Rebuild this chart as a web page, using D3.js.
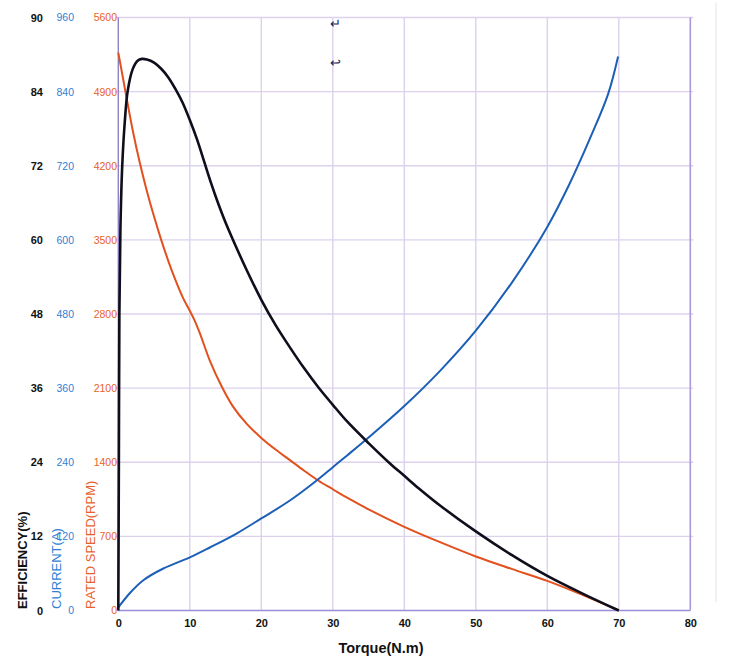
<!DOCTYPE html>
<html>
<head>
<meta charset="utf-8">
<script src="https://cdn.jsdelivr.net/npm/d3@7"></script>
<style>
  body { margin: 0; background: #fff; }
  #motorChart text { font-family: "Liberation Sans", Arial, sans-serif; }
</style>
</head>
<body>
<div id="motorChart"></div>
<script>
/* data */
const torque = [0, 10, 20, 30, 40, 50, 60, 70, 80];
const effLabels = ["0", "12", "24", "36", "48", "60", "72", "84", "90"];
const currentTicks = [0, 120, 240, 360, 480, 600, 720, 840, 960];
const speedTicks = [0, 700, 1400, 2100, 2800, 3500, 4200, 4900, 5600];

// [torque, efficiency %]
const efficiency = [[0, 0], [0.08, 24], [0.15, 48], [0.3, 62], [0.55, 72], [0.9, 79], [1.3, 84], [2, 87.6],
  [2.7, 89], [3.3, 89.3], [4, 89.2], [5, 88.7], [6, 87.7], [7, 86.3], [8, 84.4], [9, 82.2], [10, 79.4],
  [11, 76.3], [12, 72.7], [13, 69.1], [14, 65.8], [15, 62.8], [16, 60.1], [18, 55], [20, 50.3],
  [22, 46.2], [24, 42.6], [26, 39.2], [28, 36.1], [30, 33.3], [32, 30.6], [35, 27.1], [38, 23.8],
  [40, 21.8], [42, 19.8], [45, 17.0], [50, 12.8], [55, 9.0], [60, 5.6], [65, 2.7], [70, 0]];
// [torque, current A]
const current = [[0, 5], [1.6, 28], [3.5, 49], [6.3, 68], [10, 86], [12.8, 102], [16.6, 125], [20, 149],
  [24, 178], [27.7, 210], [30, 232], [32, 251], [35, 280], [40, 331], [45, 388], [50, 453], [55, 530],
  [60, 621], [63, 688], [66, 765], [68.5, 836], [69.9, 897]];
// [torque, speed rpm]
const speed = [[0, 5268], [1, 4900], [2, 4540], [3, 4230], [4, 3960], [5, 3720], [6, 3500], [7, 3300],
  [8, 3120], [9, 2960], [10, 2830], [10.6, 2750], [11.4, 2620], [12.8, 2360], [14.5, 2110], [16, 1930],
  [18, 1760], [20, 1630], [22, 1520], [24, 1420], [26, 1320], [28, 1225], [30, 1145], [32, 1065],
  [35, 955], [40, 790], [45, 645], [50, 510], [55, 393], [60, 280], [65, 145], [70, 0]];

const plotLeft = 118.3, plotRight = 690.3, plotTop = 17.5, plotBottom = 610.5;

const svg = d3.select("#motorChart").append("svg")
  .attr("width", 750)
  .attr("height", 666);

/* scales */
const x = d3.scaleLinear().domain([0, 80]).range([plotLeft, plotRight]);
const ySpeed = d3.scaleLinear().domain([0, 5600]).range([plotBottom, plotTop]);
const yCur = d3.scaleLinear().domain([0, 960]).range([plotBottom, plotTop]);
const yEff = d3.scaleLinear().domain([0, 96]).range([plotBottom, plotTop]);

const gridColor = "#dcd2ec";

/* faint line at far right */
svg.append("line")
  .attr("x1", 716).attr("x2", 716).attr("y1", 3).attr("y2", 602)
  .style("stroke", "#e4e4e8").style("stroke-width", 1);

/* grid */
svg.append("g")
  .selectAll("line")
  .data(speedTicks.slice(1)).enter()
  .append("line")
  .attr("x1", plotLeft - 3).attr("x2", plotRight + 3)
  .attr("y1", d => ySpeed(d)).attr("y2", d => ySpeed(d))
  .style("stroke", gridColor).style("stroke-width", 1.4);

svg.append("g")
  .selectAll("line")
  .data(torque.slice(1, -1)).enter()
  .append("line")
  .attr("x1", d => x(d)).attr("x2", d => x(d))
  .attr("y1", plotTop).attr("y2", plotBottom)
  .style("stroke", gridColor).style("stroke-width", 1.4);

/* frame */
svg.append("line").attr("x1", plotRight).attr("x2", plotRight).attr("y1", plotTop).attr("y2", plotBottom)
  .style("stroke", "#a999d9").style("stroke-width", 1.6);
svg.append("line").attr("x1", plotLeft).attr("x2", plotLeft).attr("y1", plotTop).attr("y2", plotBottom)
  .style("stroke", "#8d82c4").style("stroke-width", 1.4);
svg.append("line").attr("x1", plotLeft).attr("x2", plotRight).attr("y1", plotBottom).attr("y2", plotBottom)
  .style("stroke", "#9a8edb").style("stroke-width", 1.6);

/* curves */
const line = d3.line().curve(d3.curveCatmullRom.alpha(0.5));

svg.append("path")
  .attr("d", line.x(d => x(d[0])).y(d => ySpeed(d[1]))(speed))
  .style("fill", "none").style("stroke", "#e2501d").style("stroke-width", 2);

svg.append("path")
  .attr("d", line.x(d => x(d[0])).y(d => yCur(d[1]))(current))
  .style("fill", "none").style("stroke", "#1c5fb6").style("stroke-width", 2);

svg.append("path")
  .attr("d", line.x(d => x(d[0])).y(d => yEff(d[1]))(efficiency))
  .style("fill", "none").style("stroke", "#0e0e1c").style("stroke-width", 2.6);

/* y axes */
const effAxis = d3.axisLeft(yEff)
  .tickValues([0, 12, 24, 36, 48, 60, 72, 84, 96])
  .tickFormat((d, i) => effLabels[i])
  .tickSize(0).tickPadding(0);
const curAxis = d3.axisLeft(yCur).tickValues(currentTicks).tickFormat(d3.format("d")).tickSize(0).tickPadding(0);
const speedAxis = d3.axisLeft(ySpeed).tickValues(speedTicks).tickFormat(d3.format("d")).tickSize(0).tickPadding(0);

function styleAxis(g, color, weight, size) {
  g.select(".domain").remove();
  g.selectAll("text")
    .attr("fill", color)
    .style("font-size", size + "px")
    .style("font-weight", weight);
}

svg.append("g").attr("transform", "translate(43,0)").call(effAxis)
  .call(g => styleAxis(g, "#111", "bold", 11));
svg.append("g").attr("transform", "translate(74,0)").call(curAxis)
  .call(g => styleAxis(g, "#2f7fd6", "normal", 10.5));
svg.append("g").attr("transform", "translate(117,0)").call(speedAxis)
  .call(g => styleAxis(g, "#e8612c", "normal", 10.5));

/* x axis */
const xAxis = d3.axisBottom(x).tickValues(torque).tickSize(0).tickPadding(9);
svg.append("g").attr("transform", `translate(0, ${plotBottom})`).call(xAxis)
  .call(g => styleAxis(g, "#111", "bold", 11));

/* titles */
svg.append("text")
  .attr("x", 381).attr("y", 653)
  .attr("text-anchor", "middle")
  .style("font-size", "14.5px").style("font-weight", "bold").attr("fill", "#111")
  .text("Torque(N.m)");

const yTitles = [
  { label: "EFFICIENCY(%)", x: 26.5, color: "#111", weight: "bold" },
  { label: "CURRENT(A)", x: 60.5, color: "#2f7fd6", weight: "normal" },
  { label: "RATED SPEED(RPM)", x: 94.5, color: "#e8612c", weight: "normal" }
];
svg.selectAll(".ytitle")
  .data(yTitles).enter()
  .append("text")
  .attr("class", "ytitle")
  .attr("transform", d => `translate(${d.x}, 609) rotate(-90)`)
  .style("font-size", "13px")
  .style("font-weight", d => d.weight)
  .attr("fill", d => d.color)
  .text(d => d.label);

/* stray return marks */
svg.append("text").attr("x", 330).attr("y", 28).style("font-size", "13px").attr("fill", "#1c2050").text("↵");
svg.append("text").attr("x", 330).attr("y", 67).style("font-size", "13px").attr("fill", "#1c2050").text("↩");
</script>
</body>
</html>
